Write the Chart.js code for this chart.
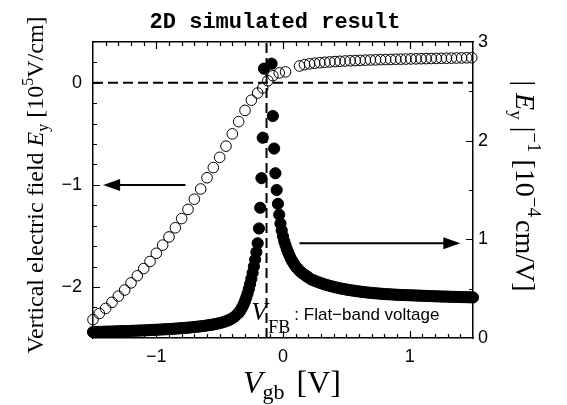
<!DOCTYPE html>
<html>
<head>
<meta charset="utf-8">
<script src="https://cdn.jsdelivr.net/npm/chart.js@4/dist/chart.umd.min.js"></script>
<style>
  html, body { margin: 0; padding: 0; background: #fff; }
  #wrap { width: 567px; height: 405px; }
</style>
</head>
<body>
<div id="wrap"><canvas id="c" width="567" height="405"></canvas></div>
<script>
// open circles: vertical field Ey [1e5 V/cm] (left axis)
const openV = [-1.50, -1.45, -1.40, -1.35, -1.30, -1.25, -1.20, -1.15, -1.10, -1.05,
  -1.00, -0.95, -0.90, -0.85, -0.80, -0.75, -0.70, -0.65, -0.60, -0.55,
  -0.50, -0.45, -0.40, -0.35, -0.30, -0.25, -0.20, -0.16, -0.12, -0.08, -0.03, 0.02,
  0.13, 0.17, 0.21, 0.25, 0.29, 0.33, 0.37, 0.41, 0.45, 0.49, 0.53, 0.57, 0.61, 0.65,
  0.69, 0.73, 0.77, 0.81, 0.85, 0.89, 0.93, 0.97, 1.01, 1.05, 1.09, 1.13, 1.17, 1.21,
  1.25, 1.29, 1.33, 1.37, 1.41, 1.45, 1.49];
const openE = [-2.32, -2.26, -2.21, -2.15, -2.09, -2.03, -1.96, -1.89, -1.82, -1.75,
  -1.67, -1.59, -1.51, -1.42, -1.33, -1.24, -1.14, -1.04, -0.93, -0.83,
  -0.73, -0.62, -0.50, -0.38, -0.27, -0.17, -0.10, -0.05, 0.02, 0.07, 0.097, 0.107,
  0.165, 0.178, 0.186, 0.192, 0.197, 0.201, 0.205, 0.208, 0.211, 0.214, 0.216, 0.218, 0.220, 0.222,
  0.224, 0.225, 0.227, 0.228, 0.229, 0.231, 0.232, 0.233, 0.234, 0.235, 0.236, 0.237, 0.238, 0.239,
  0.240, 0.241, 0.242, 0.243, 0.244, 0.245, 0.246];

// filled circles: |Ey|^-1 [1e-4 cm/V] (right axis)
const fillV = [-1.50, -1.48, -1.46, -1.44, -1.42, -1.40, -1.38, -1.36, -1.34, -1.32,
  -1.30, -1.28, -1.26, -1.24, -1.22, -1.20, -1.18, -1.16, -1.14, -1.12,
  -1.10, -1.08, -1.06, -1.04, -1.02, -1.00, -0.98, -0.96, -0.94, -0.92,
  -0.90, -0.88, -0.86, -0.84, -0.82, -0.80, -0.78, -0.76, -0.74, -0.72,
  -0.70, -0.68, -0.66, -0.64, -0.62, -0.60, -0.58, -0.56, -0.54, -0.52,
  -0.50, -0.48, -0.46, -0.44, -0.42, -0.40, -0.38, -0.36,
  -0.35, -0.34, -0.33, -0.32, -0.31, -0.30, -0.29, -0.28, -0.27, -0.26,
  -0.25, -0.24, -0.23, -0.22, -0.21, -0.20, -0.19, -0.18, -0.17, -0.16, -0.15,
  -0.09, -0.08, -0.07, -0.06, -0.05, -0.04, -0.03, -0.02, -0.01, 0.00,
  0.01, 0.02, 0.03, 0.04, 0.05, 0.06, 0.07, 0.08, 0.09, 0.10,
  0.11, 0.12, 0.13, 0.14, 0.15, 0.16, 0.17, 0.18, 0.19, 0.20,
  0.22, 0.24, 0.26, 0.28, 0.30, 0.32, 0.34, 0.36, 0.38, 0.40,
  0.42, 0.44, 0.46, 0.48, 0.50, 0.52, 0.54, 0.56, 0.58, 0.60,
  0.62, 0.64, 0.66, 0.68, 0.70, 0.72, 0.74, 0.76, 0.78, 0.80,
  0.82, 0.84, 0.86, 0.88, 0.90, 0.92, 0.94, 0.96, 0.98, 1.00,
  1.02, 1.04, 1.06, 1.08, 1.10, 1.12, 1.14, 1.16, 1.18, 1.20,
  1.22, 1.24, 1.26, 1.28, 1.30, 1.32, 1.34, 1.36, 1.38, 1.40,
  1.42, 1.44, 1.46, 1.48, 1.50];
const fillInv = [0.060, 0.061, 0.062, 0.062, 0.063, 0.064, 0.065, 0.065, 0.066, 0.067,
  0.068, 0.069, 0.070, 0.070, 0.071, 0.072, 0.073, 0.074, 0.075, 0.076,
  0.077, 0.078, 0.080, 0.081, 0.082, 0.084, 0.085, 0.086, 0.088, 0.089,
  0.091, 0.092, 0.094, 0.096, 0.098, 0.100, 0.102, 0.104, 0.106, 0.109,
  0.111, 0.114, 0.117, 0.120, 0.123, 0.127, 0.131, 0.135, 0.140, 0.145,
  0.151, 0.158, 0.166, 0.175, 0.186, 0.200, 0.218, 0.242,
  0.255, 0.272, 0.292, 0.316, 0.343, 0.375, 0.410, 0.450, 0.495, 0.545,
  0.600, 0.660, 0.725, 0.795, 0.870, 0.960, 1.110, 1.320, 1.620, 2.030, 2.730,
  2.78, 2.25, 1.92, 1.67, 1.50, 1.36, 1.25, 1.16, 1.09, 1.03,
  0.98, 0.94, 0.90, 0.87, 0.84, 0.81, 0.785, 0.765, 0.745, 0.725,
  0.71, 0.695, 0.68, 0.67, 0.66, 0.65, 0.64, 0.63, 0.622, 0.615,
  0.595, 0.585, 0.575, 0.565, 0.556, 0.547, 0.539, 0.532, 0.525, 0.518,
  0.512, 0.506, 0.501, 0.496, 0.491, 0.487, 0.483, 0.479, 0.475, 0.472,
  0.468, 0.465, 0.462, 0.459, 0.457, 0.454, 0.452, 0.450, 0.448, 0.446,
  0.444, 0.443, 0.441, 0.440, 0.438, 0.437, 0.436, 0.435, 0.434, 0.433,
  0.432, 0.431, 0.430, 0.429, 0.428, 0.427, 0.426, 0.425, 0.424, 0.423,
  0.422, 0.421, 0.420, 0.420, 0.419, 0.418, 0.417, 0.417, 0.416, 0.415,
  0.414, 0.414, 0.413, 0.412, 0.411];

const vfb = -0.13;           // flat-band voltage (dashed vertical line)
const xTicks = [-1, 0, 1];
const leftTicks = [-2, -1, 0];
const rightTicks = [0, 1, 2, 3];

const SERIF = '"Liberation Serif", "Times New Roman", serif';
const SANS = '"Liberation Sans", Arial, sans-serif';

const fmt = v => v < 0 ? '\u2212' + Math.abs(v) : String(v);

// draw a run of text pieces (sub/superscripts) centred on x
function drawParts(ctx, parts, x, y) {
  let total = 0;
  parts.forEach(p => { ctx.font = p.f; p.w = ctx.measureText(p.t).width; total += p.w + (p.dx || 0); });
  let cx = x - total / 2;
  parts.forEach(p => {
    ctx.font = p.f;
    cx += p.dx || 0;
    ctx.fillText(p.t, cx, y + (p.dy || 0));
    cx += p.w;
  });
}

function arrow(ctx, x0, y0, x1, y1) {
  const dir = Math.sign(x1 - x0);
  ctx.beginPath();
  ctx.moveTo(x0, y0);
  ctx.lineTo(x1 - dir * 14, y1);
  ctx.lineWidth = 2;
  ctx.stroke();
  ctx.beginPath();
  ctx.moveTo(x1, y1);
  ctx.lineTo(x1 - dir * 17, y1 - 6);
  ctx.lineTo(x1 - dir * 17, y1 + 6);
  ctx.closePath();
  ctx.fill();
}

const decor = {
  id: 'decor',
  afterDatasetsDraw(chart) {
    const {ctx, chartArea: a, scales} = chart;
    const x = scales.x, yl = scales.yL, yr = scales.yR;
    ctx.save();
    ctx.strokeStyle = '#000';
    ctx.fillStyle = '#000';
    ctx.lineWidth = 1.2;

    // inward ticks on all four sides
    ctx.beginPath();
    for (let i = -14; i <= 14; i++) {
      const px = Math.round(x.getPixelForValue(i / 10)) + 0.5;
      const len = i % 10 === 0 ? 7 : 4;
      ctx.moveTo(px, a.bottom); ctx.lineTo(px, a.bottom - len);
      ctx.moveTo(px, a.top); ctx.lineTo(px, a.top + len);
    }
    for (let i = -12; i <= 1; i++) {
      const py = Math.round(yl.getPixelForValue(i / 5)) + 0.5;
      const len = i % 5 === 0 ? 7 : 4;
      ctx.moveTo(a.left, py); ctx.lineTo(a.left + len, py);
    }
    for (let i = 1; i <= 5; i++) {
      const py = Math.round(yr.getPixelForValue(i / 2)) + 0.5;
      const len = i % 2 === 0 ? 7 : 4;
      ctx.moveTo(a.right, py); ctx.lineTo(a.right - len, py);
    }
    ctx.stroke();

    // arrows pointing to the axes
    const yA = yl.getPixelForValue(-1);
    arrow(ctx, x.getPixelForValue(-0.77), yA, x.getPixelForValue(-1.42), yA);
    const yB = yr.getPixelForValue(0.96);
    arrow(ctx, x.getPixelForValue(0.13), yB, x.getPixelForValue(1.40), yB);

    ctx.textBaseline = 'alphabetic';
    ctx.textAlign = 'left';

    // V_FB label
    const lx = x.getPixelForValue(-0.25);
    ctx.font = 'italic 26px ' + SERIF;
    ctx.fillText('V', lx, 320);
    ctx.font = '18px ' + SERIF;
    ctx.fillText('FB', lx + 17, 333);
    ctx.font = '17px ' + SANS;
    ctx.fillText(': Flat\u2212band voltage', lx + 43, 320);

    // title
    ctx.font = 'bold 22px "Liberation Mono", "Courier New", monospace';
    ctx.textAlign = 'center';
    ctx.textBaseline = 'middle';
    ctx.fillText('2D simulated result', 275, 22);
    ctx.textAlign = 'left';
    ctx.textBaseline = 'alphabetic';

    // x title
    drawParts(ctx, [
      {t: 'V', f: 'italic 32px ' + SERIF},
      {t: 'gb', f: '22px ' + SERIF, dy: 6},
      {t: '[V]', f: '32px ' + SERIF, dx: 12}
    ], 292, 393);

    // left title
    ctx.save();
    ctx.translate(35, 185);
    ctx.rotate(-Math.PI / 2);
    drawParts(ctx, [
      {t: 'Vertical electric field ', f: '24px ' + SERIF},
      {t: 'E', f: 'italic 24px ' + SERIF},
      {t: 'y', f: '16px ' + SERIF, dy: 5},
      {t: ' [10', f: '24px ' + SERIF},
      {t: '5', f: '16px ' + SERIF, dy: -10},
      {t: 'V/cm]', f: '24px ' + SERIF}
    ], 0, 8);
    ctx.restore();

    // right title
    ctx.save();
    ctx.translate(527, 186);
    ctx.rotate(Math.PI / 2);
    drawParts(ctx, [
      {t: '| ', f: '28px ' + SERIF},
      {t: 'E', f: 'italic 28px ' + SERIF},
      {t: 'y', f: '19px ' + SERIF, dy: 6},
      {t: ' |', f: '28px ' + SERIF},
      {t: '\u22121', f: '19px ' + SERIF, dy: -12},
      {t: ' [10', f: '28px ' + SERIF},
      {t: '\u22124', f: '19px ' + SERIF, dy: -12},
      {t: 'cm/V]', f: '28px ' + SERIF, dx: 3}
    ], 0, 11);
    ctx.restore();

    ctx.restore();
  }
};

const tickFont = {family: SANS, size: 18};

new Chart(document.getElementById('c'), {
  type: 'scatter',
  data: {
    datasets: [
      {
        label: 'Ey',
        data: openV.map((v, i) => ({x: v, y: openE[i]})),
        yAxisID: 'yL',
        pointRadius: 5.3,
        pointBorderWidth: 1,
        pointBorderColor: '#000',
        pointBackgroundColor: 'rgba(0,0,0,0)',
        clip: false,
        order: 2
      },
      {
        label: '|Ey|^-1',
        data: fillV.map((v, i) => ({x: v, y: fillInv[i]})),
        yAxisID: 'yR',
        pointRadius: 5.6,
        pointBorderWidth: 1,
        pointBorderColor: '#000',
        pointBackgroundColor: '#000',
        clip: false,
        order: 1
      },
      {
        label: 'zero',
        data: [{x: -1.5, y: 0}, {x: 1.5, y: 0}],
        yAxisID: 'yL',
        showLine: true,
        pointRadius: 0,
        borderColor: '#000',
        borderWidth: 2,
        borderDash: [10, 5],
        order: 3
      },
      {
        label: 'VFB',
        data: [{x: vfb, y: -2.5}, {x: vfb, y: 0.4}],
        yAxisID: 'yL',
        showLine: true,
        pointRadius: 0,
        borderColor: '#000',
        borderWidth: 2,
        borderDash: [10, 5],
        order: 3
      }
    ]
  },
  options: {
    responsive: false,
    animation: false,
    layout: {padding: 0},
    plugins: {legend: {display: false}, tooltip: {enabled: false}, title: {display: false}},
    scales: {
      x: {
        type: 'linear', position: 'bottom', min: -1.5, max: 1.5,
        grid: {display: false, drawTicks: false},
        border: {display: true, color: '#000', width: 1.5},
        ticks: {font: tickFont, color: '#000', padding: 8, maxRotation: 0, callback: fmt},
        afterBuildTicks: s => { s.ticks = xTicks.map(v => ({value: v})); },
        afterFit: s => { s.height = 67; }
      },
      xTop: {
        type: 'linear', position: 'top', min: -1.5, max: 1.5,
        grid: {display: false, drawTicks: false},
        border: {display: true, color: '#000', width: 1.5},
        ticks: {display: false},
        afterFit: s => { s.height = 42; }
      },
      yL: {
        type: 'linear', position: 'left', min: -2.5, max: 0.4,
        grid: {display: false, drawTicks: false},
        border: {display: true, color: '#000', width: 1.5},
        ticks: {font: tickFont, color: '#000', padding: 11, callback: fmt},
        afterBuildTicks: s => { s.ticks = leftTicks.map(v => ({value: v})); },
        afterFit: s => { s.width = 93; }
      },
      yR: {
        type: 'linear', position: 'right', min: 0, max: 3,
        grid: {display: false, drawTicks: false},
        border: {display: true, color: '#000', width: 1.5},
        ticks: {font: tickFont, color: '#000', padding: 5, callback: fmt},
        afterBuildTicks: s => { s.ticks = rightTicks.map(v => ({value: v})); },
        afterFit: s => { s.width = 94; }
      }
    }
  },
  plugins: [decor]
});
</script>
</body>
</html>
